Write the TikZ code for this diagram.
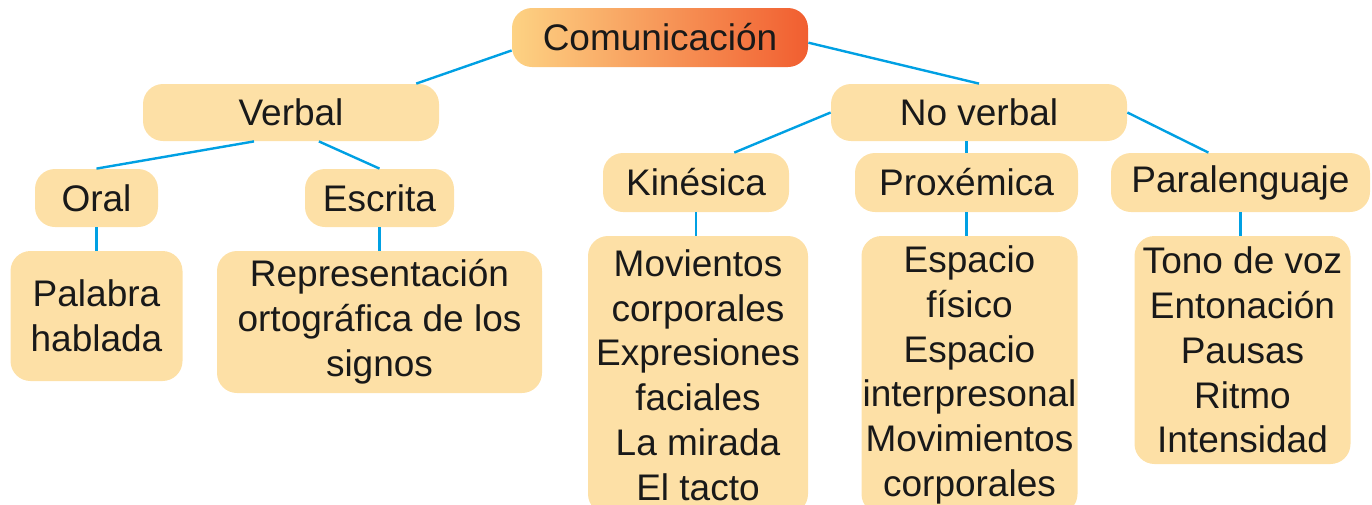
\documentclass[tikz,border=0pt]{standalone}
\usepackage{fontspec}
\setmainfont{Liberation Sans}
\usepackage{xcolor}
\definecolor{peach}{HTML}{FDE0A6}
\definecolor{wire}{HTML}{00A0E3}
\definecolor{gradl}{HTML}{FDD283}
\definecolor{gradr}{HTML}{F15E30}

\begin{document}
\begin{tikzpicture}[x=0.5pt, y=-0.5pt,
  every node/.style={rounded corners=10pt, inner sep=0pt, align=center, text=black!90,
    font=\fontsize{18.5}{22.4}\selectfont},
  box/.style={fill=peach},
  rootbox/.style={left color=gradl, right color=gradr},
  link/.style={draw=wire, line width=1.2pt}]
\useasboundingbox (0,0) rectangle (1372,504);
\node[rootbox, minimum width=148pt, minimum height=29.5pt] (com) at (660,37.5) {Comunicación};
\node[box, minimum width=148pt, minimum height=28.5pt] (verbal) at (291,112.5) {Verbal};
\node[box, minimum width=148pt, minimum height=28.5pt] (nv) at (979,112.5) {No verbal};
\node[box, minimum width=61.5pt, minimum height=29pt] (oral) at (96.5,198) {Oral};
\node[box, minimum width=74.5pt, minimum height=29pt] (esc) at (379.5,198) {Escrita};
\node[box, minimum width=86pt, minimum height=65pt] (pal) at (96.5,316) {Palabra\\hablada};
\node[box, minimum width=162.5pt, minimum height=71pt] (rep) at (379.5,322) {Representación\\ortográfica de los\\signos};
\node[box, minimum width=93pt, minimum height=29.5pt] (kin) at (696,182.5) {Kinésica};
\node[box, minimum width=111.5pt, minimum height=29.5pt] (prox) at (966.5,182.5) {Proxémica};
\node[box, minimum width=129.5pt, minimum height=29.5pt] (para) at (1240.5,182.5) {Paralenguaje};
\node[box, minimum width=110pt, minimum height=139pt] (kinl) at (698,375) {Movientos\\corporales\\Expresiones\\faciales\\La mirada\\El tacto};
\node[box, minimum width=108pt, minimum height=139pt] (proxl) at (969.5,375) {Espacio\\físico\\Espacio\\interpresonal\\Movimientos\\corporales};
\node[box, minimum width=108pt, minimum height=114pt] (paral) at (1242.5,350) {Tono de voz\\Entonación\\Pausas\\Ritmo\\Intensidad};
\draw[link] (com.185)--(verbal.13);
\draw[link] (com.-2.5)--(nv.north);
\draw[link] (verbal.218)--(oral.north);
\draw[link] (verbal.-46.5)--(esc.north);
\draw[link] (oral.south)--(pal.north);
\draw[link] (esc.south)--(rep.north);
\draw[link] (nv.west)--(kin.38);
\draw[link] (nv.south -| prox.north)--(prox.north);
\draw[link] (nv.east)--(para.137);
\draw[link] (kin.south)--(kin.south |- kinl.north);
\draw[link] (prox.south)--(prox.south |- proxl.north);
\draw[link] (para.south)--(para.south |- paral.north);
\end{tikzpicture}
\end{document}
